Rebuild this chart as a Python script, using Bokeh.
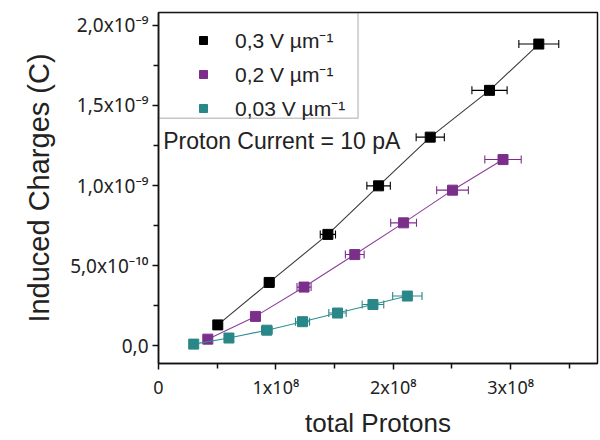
from bokeh.plotting import figure
from bokeh.models import (Range1d, FixedTicker, ColumnDataSource, Whisker, TeeHead,
                          Legend, LegendItem, Label, BoxAnnotation)
from bokeh.embed import file_html
from bokeh.resources import INLINE

# ---- data ----
series_labels = ["0,3 V µm⁻¹", "0,2 V µm⁻¹", "0,03 V µm⁻¹"]
series_colors = ["#000000", "#7b2f8a", "#2a8787"]

black_x = [0.505e8, 0.943e8, 1.443e8, 1.875e8, 2.315e8, 2.82e8, 3.24e8]
black_y = [0.13e-9, 0.395e-9, 0.695e-9, 0.998e-9, 1.302e-9, 1.594e-9, 1.883e-9]
black_xerr = [0.02e8, 0.04e8, 0.065e8, 0.10e8, 0.12e8, 0.15e8, 0.17e8]

purple_x = [0.42e8, 0.826e8, 1.24e8, 1.672e8, 2.088e8, 2.505e8, 2.935e8]
purple_y = [0.041e-9, 0.183e-9, 0.366e-9, 0.569e-9, 0.767e-9, 0.971e-9, 1.162e-9]
purple_xerr = [0.02e8, 0.035e8, 0.06e8, 0.08e8, 0.11e8, 0.135e8, 0.155e8]

teal_x = [0.30e8, 0.60e8, 0.923e8, 1.227e8, 1.525e8, 1.827e8, 2.12e8]
teal_y = [0.01e-9, 0.048e-9, 0.097e-9, 0.15e-9, 0.204e-9, 0.257e-9, 0.31e-9]
teal_xerr = [0.015e8, 0.03e8, 0.045e8, 0.06e8, 0.074e8, 0.092e8, 0.125e8]

x_ticks = [0, 1e8, 2e8, 3e8]
x_minor = [0.5e8, 1.5e8, 2.5e8, 3.5e8]
x_tick_labels = ["0", "1x10⁸", "2x10⁸", "3x10⁸"]
y_ticks = [0, 5e-10, 1e-9, 1.5e-9, 2e-9]
y_minor = [2.5e-10, 7.5e-10, 1.25e-9, 1.75e-9]
y_tick_labels = ["0,0", "5,0x10⁻¹⁰", "1,0x10⁻⁹", "1,5x10⁻⁹", "2,0x10⁻⁹"]

annotation_text = "Proton Current = 10 pA"
x_title = "total Protons"
y_title = "Induced Charges (C)"

FONT = "Liberation Sans"
TICK_FONT = "Noto Sans"
TXT = "#222222"

X_END, Y_START, Y_END = 3.74e8, -0.111e-9, 2.08e-9

p = figure(width=600, height=440, output_backend="svg", toolbar_location=None,
           x_range=Range1d(0, X_END), y_range=Range1d(Y_START, Y_END),
           min_border_left=158, min_border_right=3, min_border_top=12,
           min_border_bottom=73, background_fill_color="white",
           border_fill_color="white")
p.grid.visible = False
p.outline_line_color = "#111111"
p.outline_line_width = 1.5

series = [
    (black_x, black_y, black_xerr),
    (purple_x, purple_y, purple_xerr),
    (teal_x, teal_y, teal_xerr),
]
line_colors = ["#3a3a3a", "#8e3f9c", "#2f9090"]

items = []
for (xs, ys, errs), lab, col, lcol in zip(series, series_labels, series_colors, line_colors):
    src = ColumnDataSource(dict(
        x=xs, y=ys,
        lower=[a - e for a, e in zip(xs, errs)],
        upper=[a + e for a, e in zip(xs, errs)],
    ))
    p.line("x", "y", source=src, line_color=lcol, line_width=1.1)
    w = Whisker(source=src, base="y", lower="lower", upper="upper", dimension="width",
                line_color=col, line_width=1.1,
                upper_head=TeeHead(size=8, line_color=col, line_width=1.1),
                lower_head=TeeHead(size=8, line_color=col, line_width=1.1))
    p.add_layout(w)
    r = p.scatter("x", "y", source=src, marker="square", size=10,
                  fill_color=col, line_color=col)
    items.append(LegendItem(label=lab, renderers=[r]))

# legend frame (drawn as a box annotation, the legend itself has no border)
p.add_layout(BoxAnnotation(left=0, right=1.70e8, bottom=1.42e-9, top=Y_END,
                           fill_alpha=0, line_color="#444444", line_width=1.5))

legend = Legend(items=items, location="top_left")
legend.margin = 1
legend.padding = 13
legend.spacing = 6
legend.glyph_width = 62
legend.glyph_height = 20
legend.label_height = 20
legend.label_standoff = 1
legend.label_text_font = FONT
legend.label_text_font_size = "21px"
legend.label_text_color = TXT
legend.border_line_alpha = 0
legend.background_fill_alpha = 0
p.add_layout(legend)

p.add_layout(Label(x=0.04e8, y=1.278e-9, text=annotation_text, text_baseline="middle",
                   text_font=FONT, text_font_size="23px", text_color=TXT))

p.xaxis.ticker = FixedTicker(ticks=x_ticks, minor_ticks=x_minor)
p.yaxis.ticker = FixedTicker(ticks=y_ticks, minor_ticks=y_minor)
p.xaxis.major_label_overrides = {t: s for t, s in zip(x_ticks, x_tick_labels)}
p.yaxis.major_label_overrides = {t: s for t, s in zip(y_ticks, y_tick_labels)}

p.xaxis.axis_label = x_title
p.yaxis.axis_label = y_title
for ax in (p.xaxis[0], p.yaxis[0]):
    ax.axis_line_color = "#111111"
    ax.axis_line_width = 1.5
    ax.major_tick_line_color = "#111111"
    ax.minor_tick_line_color = "#111111"
    ax.major_tick_line_width = 1.5
    ax.minor_tick_line_width = 1.5
    ax.major_tick_out = 6
    ax.major_tick_in = 0
    ax.minor_tick_out = 5
    ax.minor_tick_in = 0
    ax.major_label_text_font = TICK_FONT
    ax.major_label_text_font_size = "19px"
    ax.major_label_text_color = TXT
    ax.axis_label_text_font = FONT
    ax.axis_label_text_font_style = "normal"
    ax.axis_label_text_color = TXT
p.xaxis.major_label_text_font_size = "18px"
p.xaxis.axis_label_text_font_size = "26px"
p.yaxis.axis_label_text_font_size = "29px"
p.xaxis.major_label_standoff = 5
p.xaxis.axis_label_standoff = 6
p.yaxis.major_label_standoff = 4
p.yaxis.axis_label_standoff = 12

open("out.html", "w").write(file_html(p, INLINE))
